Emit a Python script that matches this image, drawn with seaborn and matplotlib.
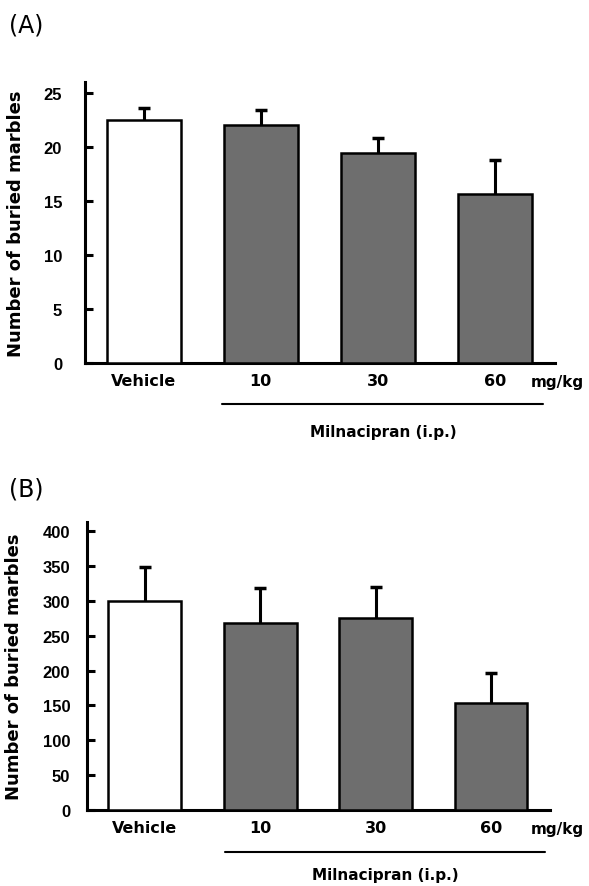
import matplotlib
matplotlib.use("Agg")
import matplotlib.pyplot as plt
import seaborn as sns
import numpy as np
from matplotlib.lines import Line2D

sns.set_theme(style="ticks")
plt.rcParams['font.family'] = ['DejaVu Sans']
for k in ["text.color", "axes.labelcolor", "xtick.color", "ytick.color", "axes.edgecolor"]:
    plt.rcParams[k] = "black"

categories = ["Vehicle", "10", "30", "60"]
means_a = [22.5, 22.0, 19.4, 15.6]
sem_a = [1.1, 1.4, 1.4, 3.2]
means_b = [300, 268, 275, 153]
sem_b = [48, 50, 45, 43]
yticks_a = [0, 5, 10, 15, 20, 25]
yticks_b = [0, 50, 100, 150, 200, 250, 300, 350, 400]
bar_colors = ["white", "#6e6e6e", "#6e6e6e", "#6e6e6e"]

W, H = 589, 887
fig = plt.figure(figsize=(W / 100, H / 100), dpi=100)

def px_ax(l, r, t, b):
    return fig.add_axes([l / W, 1 - b / H, (r - l) / W, (b - t) / H])

def draw_panel(ax, means, sems, ylim, yticks, tick_pad, label_x):
    sns.barplot(x=categories, y=means, hue=categories, palette=bar_colors,
                legend=False, width=0.63, edgecolor="black", linewidth=1.8,
                ax=ax, errorbar=None, saturation=1)
    for p in ax.patches:
        p.set_zorder(3)
    xs = np.arange(len(categories))
    eb = ax.errorbar(xs, means, yerr=[np.zeros(len(sems)), sems], fmt="none",
                     ecolor="black", elinewidth=2.2, capsize=4, capthick=2.5, zorder=1)
    caps = eb[1]
    if len(caps) >= 2:
        caps[0].set_visible(False)
    ax.set_xlim(-0.5, 3.51)
    ax.set_ylim(*ylim)
    ax.set_yticks(yticks)
    ax.set_yticklabels([str(v) for v in yticks], fontsize=12, fontweight="bold",
                       family="Liberation Sans")
    ax.tick_params(axis="y", direction="in", length=6, width=2.2, pad=tick_pad)
    ax.tick_params(axis="x", length=0, pad=7)
    for lab in ax.get_xticklabels():
        lab.set_fontweight("bold")
        lab.set_fontsize(11.5)
    sns.despine(ax=ax)
    ax.spines["left"].set_linewidth(2.2)
    ax.spines["bottom"].set_linewidth(2.2)
    ax.set_ylabel("Number of buried marbles", fontsize=13, fontweight="bold")
    ax.yaxis.set_label_coords(label_x, 0.5)
    ax.set_xlabel("")

ax_a = px_ax(85, 555, 83, 364)
draw_panel(ax_a, means_a, sem_a, (0, 26), yticks_a, 16.5, -0.1277)
ax_b = px_ax(87, 550, 523, 811)
draw_panel(ax_b, means_b, sem_b, (0, 413), yticks_b, 12, -0.1382)

def fig_text(x, y, s, **kw):
    fig.text(x / W, 1 - y / H, s, **kw)

def fig_line(x0, x1, y):
    fig.add_artist(Line2D([x0 / W, x1 / W], [1 - y / H, 1 - y / H], color="black", lw=1.5))

fig_text(9, 26, "(A)", fontsize=17, va="center", ha="left")
fig_text(9, 489, "(B)", fontsize=17, va="center", ha="left")

fig_text(557, 383, "mg/kg", fontsize=11, fontweight="bold", ha="center", va="center")
fig_line(222, 543, 405)
fig_text(383, 432, "Milnacipran (i.p.)", fontsize=11, fontweight="bold", ha="center", va="center")

fig_text(557, 830, "mg/kg", fontsize=11, fontweight="bold", ha="center", va="center")
fig_line(225, 545, 853)
fig_text(385, 876, "Milnacipran (i.p.)", fontsize=11, fontweight="bold", ha="center", va="center")

fig.savefig("out.png", dpi=100)
